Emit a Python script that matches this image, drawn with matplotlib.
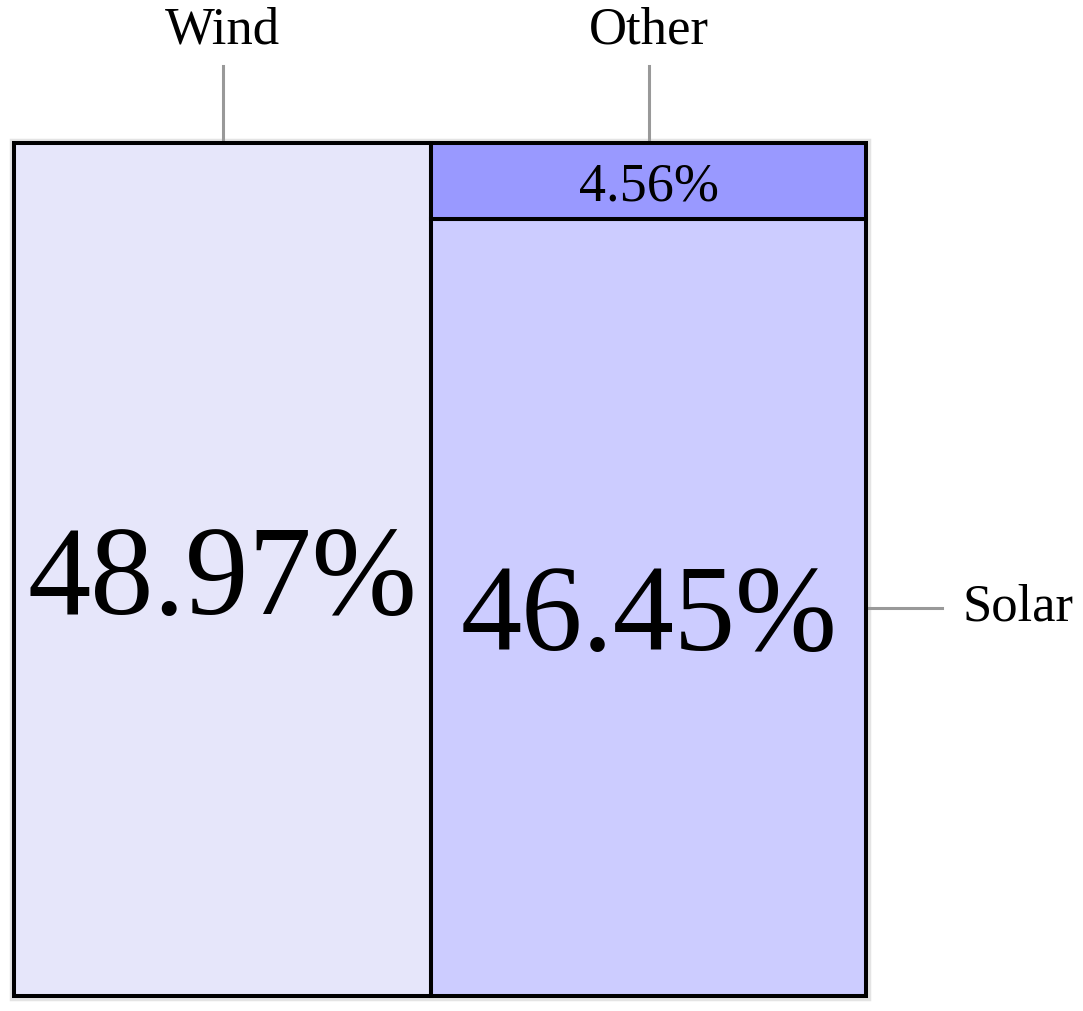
import matplotlib.pyplot as plt
from matplotlib.patches import Rectangle

# treemap data
labels = ["Wind", "Solar", "Other"]
shares = [48.97, 46.45, 4.56]
colors = ["#e6e6fa", "#ccccff", "#9999ff"]
value_sizes = [91, 88, 39]

W, H = 1083, 1011
fig = plt.figure(figsize=(W / 100, H / 100), dpi=100)
ax = fig.add_axes([0, 0, 1, 1])
ax.set_xlim(0, W)
ax.set_ylim(H, 0)
ax.axis("off")

plt.rcParams["font.family"] = ["Liberation Serif", "DejaVu Serif"]

# plot area in pixel coords
x0, y0, x1, y1 = 14, 143, 866, 996
total = sum(shares)
pw, ph = x1 - x0, y1 - y0

# slice: first item takes a full column, the rest stack in the second column
wind_w = pw * shares[0] / total
rest = shares[1] + shares[2]
other_h = ph * shares[2] / rest
rects = {
    "Wind": (x0, y0, wind_w, ph),
    "Other": (x0 + wind_w, y0, pw - wind_w, other_h),
    "Solar": (x0 + wind_w, y0 + other_h, pw - wind_w, ph - other_h),
}

# faint halo around the outer box
ax.add_patch(Rectangle((x0 - 3, y0 - 3), pw + 6, ph + 6, facecolor="none",
                       edgecolor="#e4e4e4", lw=2.5, zorder=1))

for lab, val, col, fs in zip(labels, shares, colors, value_sizes):
    x, y, w, h = rects[lab]
    ax.add_patch(Rectangle((x, y), w, h, facecolor=col, edgecolor="black",
                           lw=2.9, zorder=2))
    ax.text(x + w / 2, y + h / 2, f"{val:.2f}%", ha="center", va="center_baseline",
            fontsize=fs, color="black", zorder=3)

# leader lines + category labels
lc = "#999999"
for lab in ["Wind", "Other"]:
    x, y, w, h = rects[lab]
    cx = x + w / 2
    ax.plot([cx, cx], [66, y0 - 2], color=lc, lw=2.2, zorder=1)
    ax.text(cx, 30, lab, ha="center", va="center", fontsize=38)

x, y, w, h = rects["Solar"]
cy = y + h / 2
ax.plot([x1 + 2, 942], [cy, cy], color=lc, lw=2.2, zorder=1)
ax.text(962, cy, "Solar", ha="left", va="center", fontsize=38)

fig.savefig("out.png", dpi=100)
